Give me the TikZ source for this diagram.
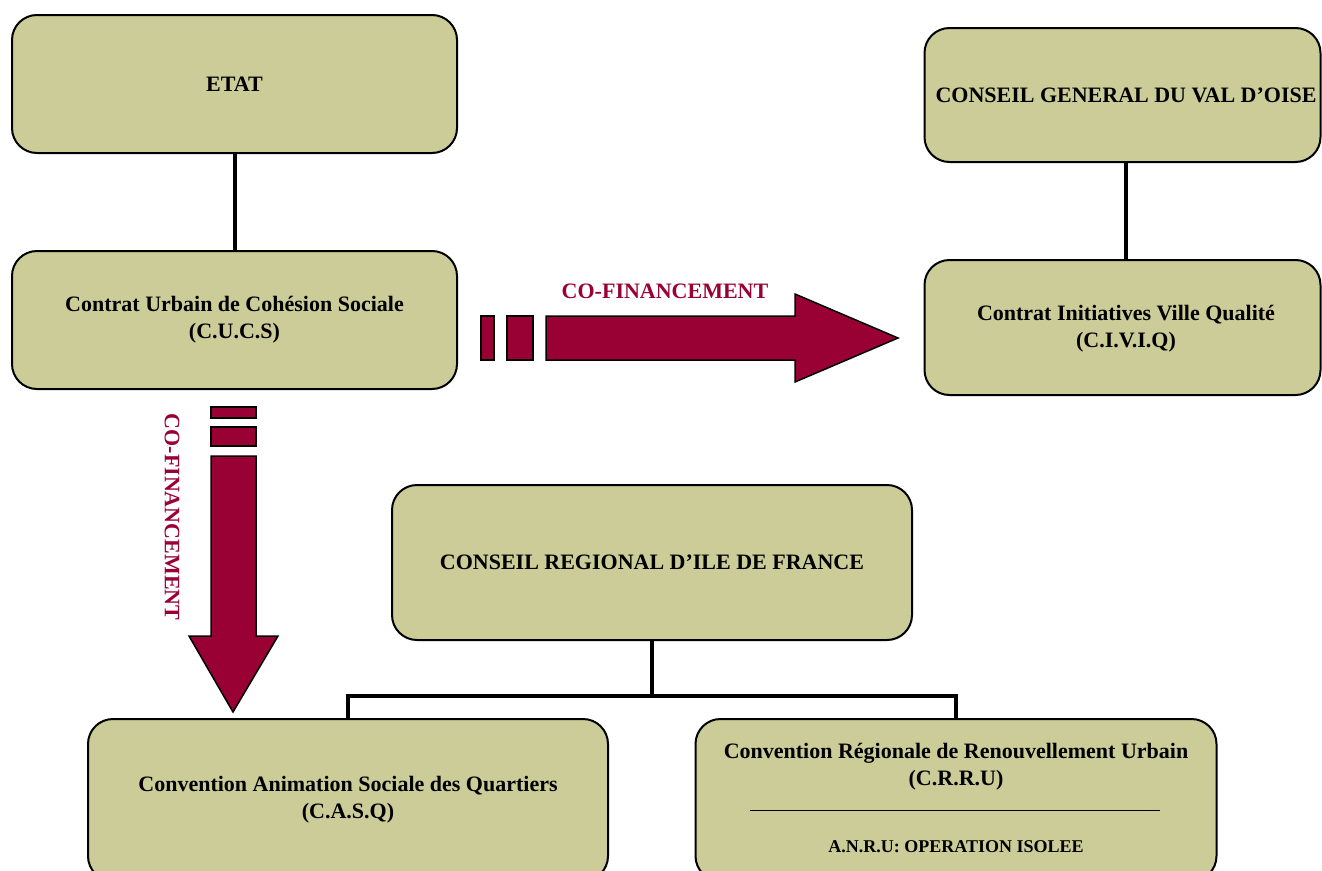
\documentclass[tikz,border=0pt]{standalone}
\usepackage{fontspec}
\setmainfont{Liberation Serif}
\definecolor{boxfill}{HTML}{CCCC99}
\definecolor{wine}{HTML}{990033}
\tikzset{
 box/.style={draw=black, line width=2pt, fill=boxfill, rounded corners=25pt, align=center,
   font=\bfseries\fontsize{22}{27}\selectfont, inner sep=0pt},
 conn/.style={line width=4pt},
 fin/.style={fill=wine, draw=black, line width=1.5pt, line join=miter},
 finlabel/.style={text=wine, font=\bfseries\fontsize{22}{26}\selectfont, inner sep=0pt},
 small/.style={font=\bfseries\fontsize{18}{22}\selectfont, inner sep=0pt, align=center}
}
\begin{document}
\begin{tikzpicture}[x=1pt,y=-1pt]
\useasboundingbox (0,0) rectangle (1322,870);
\clip (0,0) rectangle (1322,870);
% boxes
\node[box, minimum width=445pt, minimum height=138pt] (etat) at (234.5,84) {ETAT};
\node[box, minimum width=445pt, minimum height=138pt] (cucs) at (234.5,320) {Contrat Urbain de Cohésion Sociale\\(C.U.C.S)};
\node[box, minimum width=396pt, minimum height=134pt] (cg) at (1122.5,95) {};
\node[box, draw=none, fill=none] (cgt) at (1126,95) {CONSEIL GENERAL DU VAL D’OISE};
\node[box, minimum width=396pt, minimum height=135pt] (civiq) at (1122.5,327.5) {};
\node[box, draw=none, fill=none] (civiqt) at (1126,328.5) {Contrat Initiatives Ville Qualité\\(C.I.V.I.Q)};
\node[box, minimum width=520pt, minimum height=155pt] (creg) at (652,562.5) {CONSEIL REGIONAL D’ILE DE FRANCE};
\node[box, minimum width=520pt, minimum height=162pt] (casq) at (348,800) {Convention Animation Sociale des Quartiers\\(C.A.S.Q)};
\node[box, minimum width=521pt, minimum height=162pt] (crru) at (956,800) {};
\node[box, draw=none, fill=none] (crrut) at (956,766.5) {Convention Régionale de Renouvellement Urbain\\(C.R.R.U)};
\draw[line width=0.8pt] (750,810) -- (1160,810);
\node[small] (anru) at (956,847) {A.N.R.U: OPERATION ISOLEE};
% connectors
\draw[conn] (etat.south) -- (cucs.north);
\draw[conn] (cg.south -| cgt.center) -- (civiq.north -| cgt.center);
\draw[conn] (creg.south) -- ++(0,57) coordinate (j);
\draw[conn] (casq.north) -- ++(0,-22) -| (crru.north);
% horizontal co-financement arrow
\draw[fin] (481,316) rectangle (494,360);
\draw[fin] (507,316) rectangle (533,360);
\draw[fin] (546,316) -- (795,316) -- (795,294) -- (898,338) -- (795,382) -- (795,360) -- (546,360) -- cycle;
\node[finlabel] (hlab) at (665,291) {CO-FINANCEMENT};
% vertical co-financement arrow
\draw[fin] (211,407) rectangle (256,418);
\draw[fin] (211,427) rectangle (256,446);
\draw[fin] (211,456) -- (256,456) -- (256,636) -- (278,636) -- (233,712) -- (189,636) -- (211,636) -- cycle;
\node[finlabel, rotate=-90] (vlab) at (172,517) {CO-FINANCEMENT};
\end{tikzpicture}
\end{document}
